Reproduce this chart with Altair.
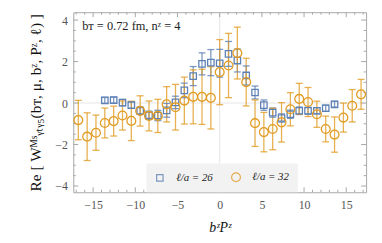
import altair as alt
import pandas as pd
import numpy as np

# b^z P^z grid step (2*pi*n^z/L with n^z=4, L=24)
STEP = np.pi / 3

z26 = list(range(-13, 14))
y26 = [0.13, 0.14, 0.02, -0.10, -0.37, -0.59, -0.60, -0.35, 0.03, 0.61,
       1.30, 1.89, 1.95, 1.92, 2.37, 2.05, 1.33, 0.51, -0.10, -0.46,
       -0.72, -0.54, -0.37, -0.37, -0.37, -0.25, -0.06]
e26 = [0.14, 0.14, 0.15, 0.15, 0.18, 0.20, 0.25, 0.33, 0.30, 0.35,
       0.46, 0.53, 0.63, 0.67, 0.60, 0.55, 0.46, 0.31, 0.25, 0.22,
       0.20, 0.20, 0.18, 0.17, 0.15, 0.15, 0.14]

z32 = list(range(-16, 17))
y32 = [-0.82, -1.62, -1.43, -0.96, -0.87, -0.60, -0.86, -0.38, -0.62, -0.62, -0.06,
       -0.20, 0.12, 0.30, 0.30, 0.25,
       1.49, 1.81, 2.41, 1.01,
       -0.97, -1.40, -1.25, -0.93, -0.30, 0.20, 0.05, -0.54, -1.25, -1.52, -0.70, -0.13, 0.42]
e32 = [0.95, 1.15, 0.85, 0.72, 0.72, 0.70, 0.95, 0.73, 0.72, 0.80, 0.85,
       1.10, 1.13, 1.30, 1.33, 1.50,
       1.57, 1.55, 1.25, 1.15,
       1.12, 0.95, 1.00, 0.95, 0.80, 0.75, 0.70, 0.63, 0.62, 0.85, 0.70, 0.78, 0.72]

series_names = ["ℓ/a = 26", "ℓ/a = 32"]
colors = ["#5e81b5", "#e19c24"]

x_major = [-15, -10, -5, 0, 5, 10, 15]
x_minor = [v for v in range(-17, 18) if v % 5 != 0]
y_major = [-4, -2, 0, 2, 4]
y_minor = [v / 2 for v in range(-8, 9) if v % 4 != 0]

rows = []
for z, y, e in zip(z26, y26, e26):
    rows.append({"b": z * STEP, "W": y, "lo": y - e, "hi": y + e, "series": series_names[0]})
for z, y, e in zip(z32, y32, e32):
    rows.append({"b": z * STEP, "W": y, "lo": y - e, "hi": y + e, "series": series_names[1]})
df = pd.DataFrame(rows)

W, H = 296, 182
SERIF = "Liberation Serif"
FRAME = "#a8a8a8"

xs = alt.Scale(domain=[-17.35, 17.35], nice=False, zero=False)
ys = alt.Scale(domain=[-4.3, 4.38], nice=False, zero=False)

x_axis = alt.Axis(values=x_major, title="bᶻPᶻ", ticks=False, domain=False, grid=False,
                  labelFont=SERIF, labelFontSize=12, labelColor="#555555", labelPadding=7,
                  titleFont=SERIF, titleFontSize=14, titleFontStyle="italic",
                  titleFontWeight="normal", titleColor="#111111", titlePadding=11)
y_axis = alt.Axis(values=y_major, title="Re [ Wᴹˢᵧₜᵧ₅(bᴛ, μ, bᶻ, Pᶻ, ℓ) ]", ticks=False,
                  domain=False, grid=False,
                  labelFont=SERIF, labelFontSize=12, labelColor="#555555", labelPadding=6,
                  titleFont=SERIF, titleFontSize=15.5, titleFontWeight="normal",
                  titleColor="#111111", titlePadding=11)

X = lambda f: alt.X(f, scale=xs, axis=x_axis)
Y = lambda f: alt.Y(f, scale=ys, axis=y_axis)

cscale = alt.Scale(domain=series_names, range=colors)
sscale = alt.Scale(domain=series_names, range=["square", "circle"])
zscale = alt.Scale(domain=series_names, range=[42, 80])

leg = alt.Legend(orient="none", legendX=74, legendY=153, direction="horizontal", title=None,
                 fillColor="#f2f2f2", padding=8, columnPadding=15, labelOffset=11,
                 labelFont=SERIF, labelFontSize=11, labelFontStyle="italic", labelColor="#222222",
                 symbolStrokeWidth=1.2, symbolFillColor="transparent")
COL = alt.Color("series:N", scale=cscale, legend=leg)

grid = alt.Chart(pd.DataFrame({"g": [0]})).mark_rule(color="#e6e6e6", strokeWidth=1)
gridx = grid.encode(x=alt.X("g:Q", scale=xs, axis=x_axis))
gridy = grid.encode(y=alt.Y("g:Q", scale=ys, axis=y_axis))

def tick_layers():
    layers = []
    for vals, ln in [(x_major, 5), (x_minor, 2.5)]:
        d = alt.Chart(pd.DataFrame({"t": vals})).mark_rule(color=FRAME, strokeWidth=1)
        layers.append(d.encode(x=alt.X("t:Q", scale=xs, axis=x_axis), y=alt.value(H), y2=alt.value(H - ln)))
        layers.append(d.encode(x=alt.X("t:Q", scale=xs, axis=x_axis), y=alt.value(0), y2=alt.value(ln)))
    for vals, ln in [(y_major, 5), (y_minor, 2.5)]:
        d = alt.Chart(pd.DataFrame({"t": vals})).mark_rule(color=FRAME, strokeWidth=1)
        layers.append(d.encode(y=alt.Y("t:Q", scale=ys, axis=y_axis), x=alt.value(0), x2=alt.value(ln)))
        layers.append(d.encode(y=alt.Y("t:Q", scale=ys, axis=y_axis), x=alt.value(W), x2=alt.value(W - ln)))
    return layers

base = alt.Chart(df)
bars = base.mark_rule(strokeWidth=1.3, opacity=0.8).encode(
    x=X("b:Q"), y=Y("lo:Q"), y2="hi:Q", color=COL)
caps_lo = base.mark_rule(strokeWidth=1.3, opacity=0.8, xOffset=-3.5, x2Offset=3.5).encode(
    x=X("b:Q"), x2="b:Q", y=Y("lo:Q"), color=COL)
caps_hi = base.mark_rule(strokeWidth=1.3, opacity=0.8, xOffset=-3.5, x2Offset=3.5).encode(
    x=X("b:Q"), x2="b:Q", y=Y("hi:Q"), color=COL)

pts = base.mark_point(filled=False, strokeWidth=1.3, opacity=1).encode(
    x=X("b:Q"), y=Y("W:Q"),
    color=COL,
    shape=alt.Shape("series:N", scale=sscale, legend=leg),
    size=alt.Size("series:N", scale=zscale, legend=leg),
)

note = alt.Chart(pd.DataFrame({"s": ["bᴛ = 0.72 fm,  nᶻ = 4"]})).mark_text(
    align="left", baseline="middle", font=SERIF, fontSize=12.5, color="#222222"
).encode(text="s:N", x=alt.value(9), y=alt.value(14))

chart = alt.layer(gridx, gridy, *tick_layers(), bars, caps_lo, caps_hi, pts, note).properties(
    width=W, height=H,
    autosize=alt.AutoSizeParams(type="none"),
    padding={"left": 66, "top": 3, "right": 8, "bottom": 45},
).configure_view(stroke=FRAME, strokeWidth=1)

chart.save("out.html", embed_options={"renderer": "svg", "actions": False})
